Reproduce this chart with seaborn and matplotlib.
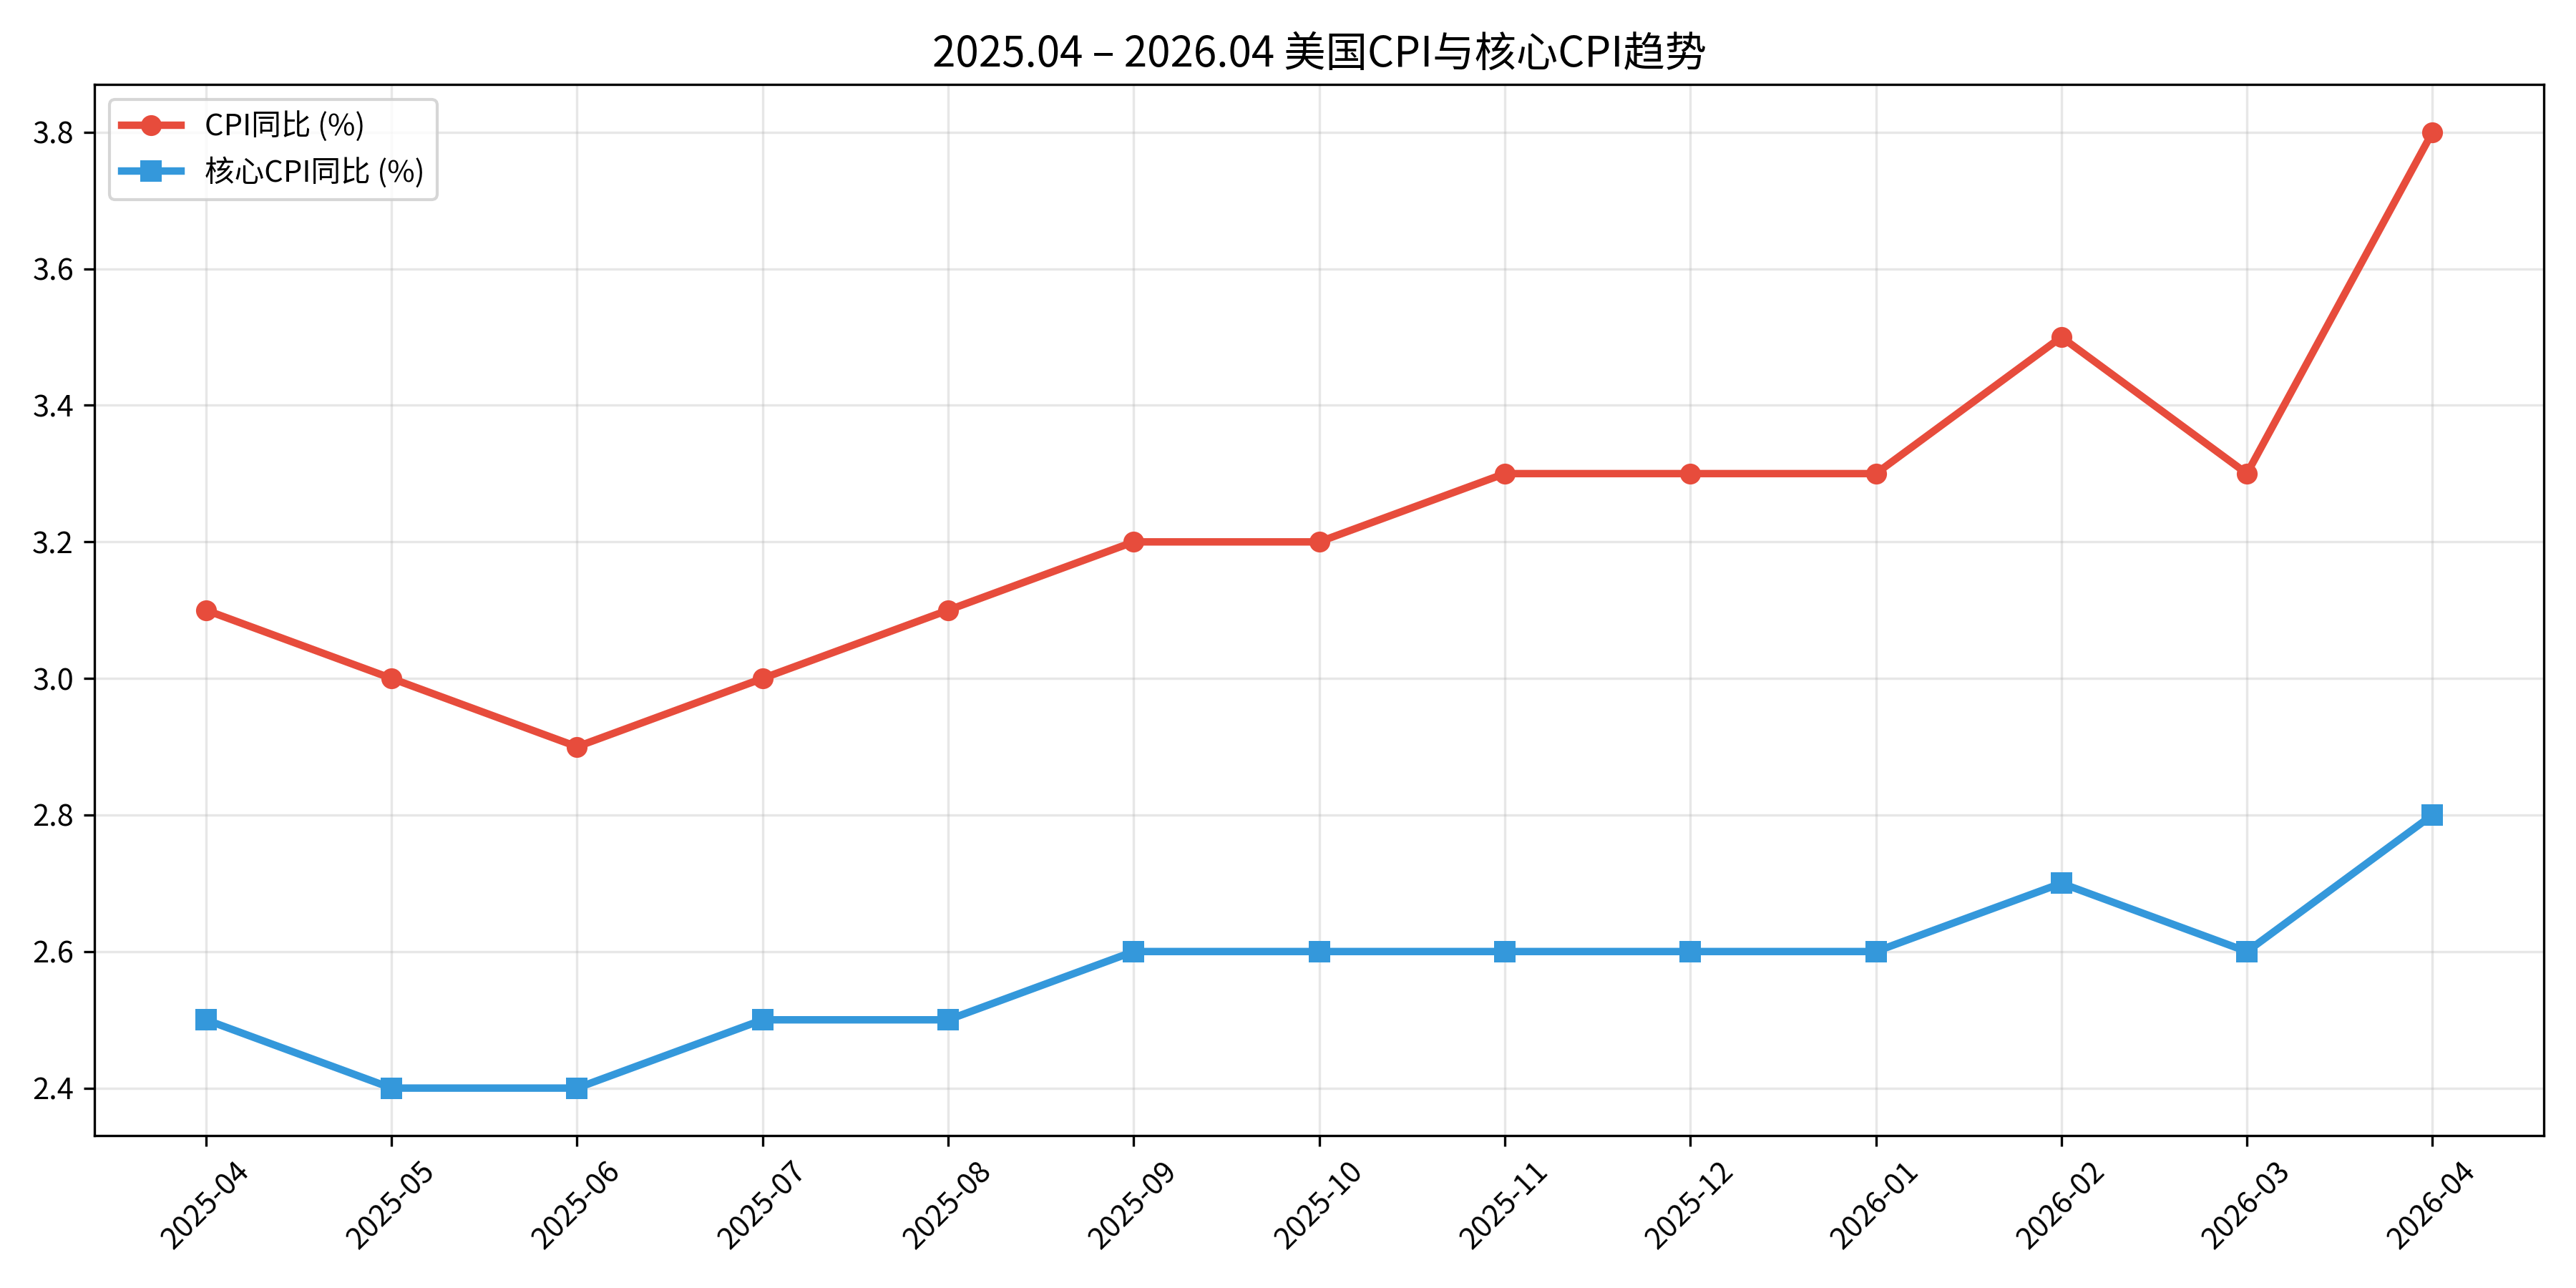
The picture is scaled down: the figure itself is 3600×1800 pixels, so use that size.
import pandas as pd
import seaborn as sns
from matplotlib import pyplot as plt

plt.rcParams['font.family'] = ['Noto Sans CJK SC', 'DejaVu Sans']
plt.rcParams['axes.unicode_minus'] = False

months = ['2025-04', '2025-05', '2025-06', '2025-07', '2025-08', '2025-09', '2025-10',
          '2025-11', '2025-12', '2026-01', '2026-02', '2026-03', '2026-04']
cpi = [3.1, 3.0, 2.9, 3.0, 3.1, 3.2, 3.2, 3.3, 3.3, 3.3, 3.5, 3.3, 3.8]
core_cpi = [2.5, 2.4, 2.4, 2.5, 2.5, 2.6, 2.6, 2.6, 2.6, 2.6, 2.7, 2.6, 2.8]

df = pd.DataFrame({'month': months, 'cpi': cpi, 'core': core_cpi})

fig, ax = plt.subplots(figsize=(12, 6))
sns.lineplot(data=df, x='month', y='cpi', ax=ax, sort=False, color='#e74c3c',
             marker='o', markersize=7, markeredgewidth=0, linewidth=2.5, label='CPI同比 (%)')
sns.lineplot(data=df, x='month', y='core', ax=ax, sort=False, color='#3498db',
             marker='s', markersize=7, markeredgewidth=0, linewidth=2.5, label='核心CPI同比 (%)')

ax.set_title('2025.04 – 2026.04 美国CPI与核心CPI趋势', fontsize=14)
ax.set_xlabel('')
ax.set_ylabel('')
ax.grid(True, alpha=0.3)
ax.legend(loc='upper left')
plt.setp(ax.get_xticklabels(), rotation=45)
plt.tight_layout()
plt.savefig('out.png', dpi=300)
